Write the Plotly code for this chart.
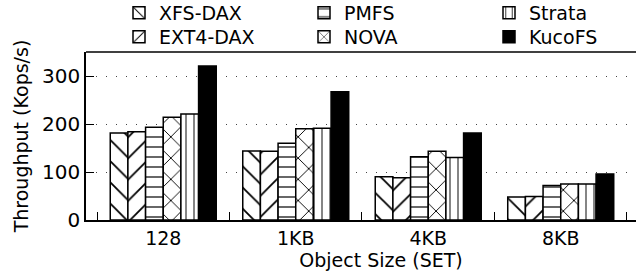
import plotly.graph_objects as go

categories = ["128", "1KB", "4KB", "8KB"]
xfs_dax = [181, 144, 90, 48]
ext4_dax = [184, 143, 88, 49]
pmfs = [193, 160, 132, 72]
nova = [214, 190, 143, 75]
strata = [221, 191, 130, 75]
kucofs = [321, 267, 181, 96]

names = ["XFS-DAX", "EXT4-DAX", "PMFS", "NOVA", "Strata", "KucoFS"]
values = [xfs_dax, ext4_dax, pmfs, nova, strata, kucofs]
shapes = ["\\", "/", "-", "x", "|", ""]

FONT = "DejaVu Sans"
EXTRA = 40  # plot area runs past the visible window edge
L, R, T, B, W, H = 86, 0, 52, 57, 636 + EXTRA, 277
PW, PH = W - L - R, H - T - B
X_RANGE = [-0.583, 3.568 + EXTRA * 4.151 / 550]
boundaries = [i - 0.5 for i in range(len(categories) + 1)]

# legend grid: columns (text start px) and rows (center px)
col_text_px = [160, 345, 530]
row_center_px = [13, 37]

fig = go.Figure()
layout_legends = {}
for i, (name, vals, shape) in enumerate(zip(names, values, shapes)):
    if shape:
        size = {"-": 10, "|": 8}.get(shape, 15)
        marker = dict(color="white", line=dict(color="black", width=1.5),
                      pattern=dict(shape=shape, fgcolor="black", bgcolor="white",
                                   size=size, solidity=0.12, fillmode="replace"))
    else:
        marker = dict(color="black", line=dict(color="black", width=1.5))
    key = "legend" if i == 0 else f"legend{i + 1}"
    fig.add_trace(go.Bar(name=name, x=categories, y=vals, marker=marker,
                         legend=key))
    col, row = i // 2, i % 2
    left_px = col_text_px[col] - 41
    layout_legends[key] = dict(
        x=(left_px - L) / PW, xanchor="left",
        y=1 + (T - row_center_px[row]) / PH, yanchor="middle",
        orientation="v", bgcolor="rgba(0,0,0,0)", borderwidth=0,
        font=dict(family=FONT, size=19, color="black"), itemwidth=30)

# invisible helper trace to carry the boundary-tick axis
fig.add_trace(go.Scatter(x=[boundaries[0]], y=[0], xaxis="x2", mode="markers",
                         marker=dict(opacity=0), showlegend=False, hoverinfo="skip"))

fig.update_layout(
    width=W, height=H,
    margin=dict(l=L, r=R, t=T, b=B, autoexpand=False),
    paper_bgcolor="white", plot_bgcolor="white",
    font=dict(family=FONT, size=19, color="black"),
    barmode="group", bargap=0.2, bargroupgap=0,
    showlegend=True,
    xaxis=dict(type="category", range=X_RANGE, showline=True,
               linecolor="black", linewidth=1.5, mirror=False,
               ticks="", showgrid=False, zeroline=False,
               tickfont=dict(family=FONT, size=19),
               title=dict(text="Object Size (SET)", font=dict(family=FONT, size=19),
                          standoff=5)),
    xaxis2=dict(overlaying="x", side="bottom", range=X_RANGE, tickvals=boundaries,
                ticks="inside", ticklen=8, tickcolor="black", tickwidth=1,
                showticklabels=False, showgrid=False, showline=False, zeroline=False),
    yaxis=dict(range=[0, 350], tickvals=[0, 100, 200, 300], showline=True,
               linecolor="black", linewidth=1.5, ticks="inside", ticklen=8,
               tickcolor="black", zeroline=False, mirror=False,
               showgrid=True, gridcolor="#444", gridwidth=1, griddash="1px,9px",
               tickfont=dict(family=FONT, size=20),
               title=dict(text="Throughput (Kops/s)", font=dict(family=FONT, size=19),
                          standoff=8)),
    shapes=[dict(type="line", xref="paper", yref="paper", x0=0, x1=1, y0=1, y1=1,
                 line=dict(color="black", width=1.5))],
    **layout_legends,
)

fig.write_html("out.html", config={"displayModeBar": False},
               post_script="document.body.style.margin='0';document.body.style.overflow='hidden';")
